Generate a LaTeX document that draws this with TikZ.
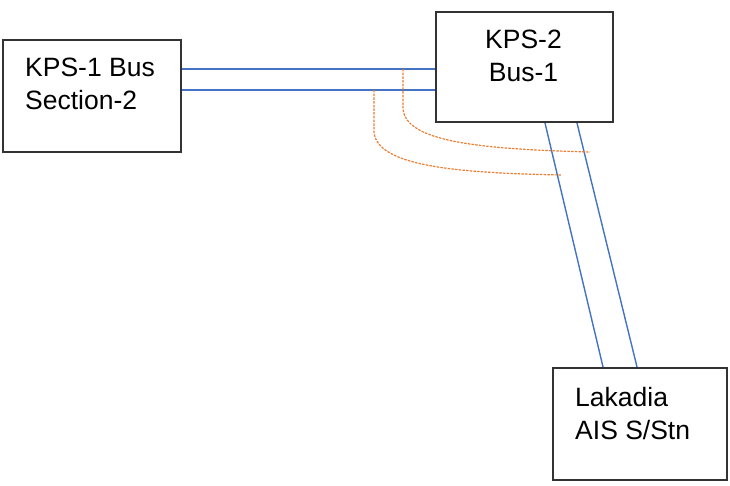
\documentclass[tikz,border=0pt]{standalone}
\usepackage{fontspec}
\setmainfont{Liberation Sans}
\usetikzlibrary{calc}
\definecolor{cblue}{HTML}{4472C4}
\definecolor{corange}{HTML}{ED7D31}
\definecolor{cgrey}{HTML}{333333}
\tikzset{
  every picture/.style={x=1pt, y=1pt},
  stn/.style={draw=cgrey, line width=2.1pt, minimum width=#1, inner sep=0pt},
  stn/.default=176pt,
  lbl/.style={font=\fontsize{26.5}{33}\selectfont, inner sep=0pt},
  bus/.style={draw=cblue, line width=1.4pt},
  cable/.style={draw=corange, line width=1.2pt, dash pattern=on 2.5pt off 1.2pt},
}

\begin{document}
\begin{tikzpicture}
  \useasboundingbox (0,0) rectangle (730,486);
  % stations
  \node[stn=178pt, minimum height=112pt] (kps1) at (92,390) {};
  \node[stn=177pt, minimum height=110pt] (kps2) at (524.5,419) {};
  \node[stn=174pt, minimum height=112pt] (lak) at (640,62) {};
  \node[lbl, align=left, anchor=north west] (kps1t) at (25,428) {KPS-1 Bus\\Section-2};
  \node[lbl, align=center, anchor=north] (kps2t) at (523.5,456) {KPS-2\\Bus-1};
  \node[lbl, align=left, anchor=north west] (lakt) at (575,99) {Lakadia\\AIS S/Stn};
  % bus connections
  \coordinate (ta) at ([yshift=-2pt]kps2.west);
  \coordinate (tb) at ([yshift=-23pt]kps2.west);
  \draw[bus] (kps1.east |- ta) -- (ta);
  \draw[bus] (kps1.east |- tb) -- (tb);
  \draw[bus] ([xshift=20.5pt]kps2.south) -- ([xshift=-37pt]lak.north);
  \draw[bus] ([xshift=52.5pt]kps2.south) -- ([xshift=-3pt]lak.north);
  % cable routes
  \coordinate (ca) at (403,417);
  \coordinate (cb) at (374,396);
  \coordinate (ea) at (590,334);
  \coordinate (eb) at (562,311);
  \draw[cable] (ca) -- ++(0,-40) .. controls (406,346) and (470,337) .. (ea);
  \draw[cable] (cb) -- ++(0,-42) .. controls (377,321) and (450,313) .. (eb);
\end{tikzpicture}
\end{document}
